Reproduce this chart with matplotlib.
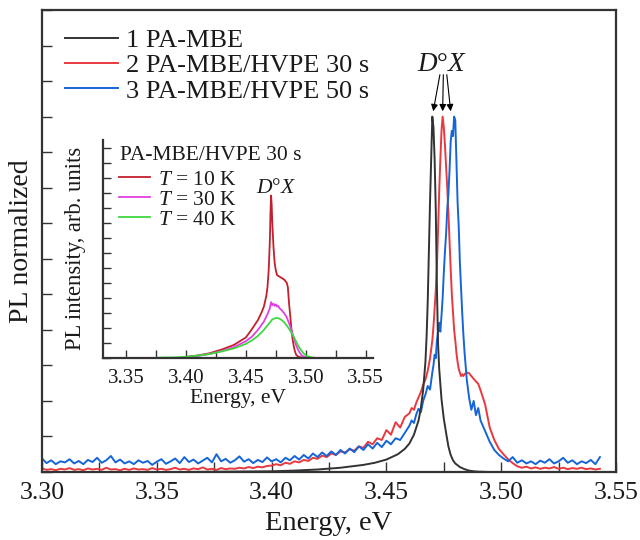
import matplotlib
matplotlib.use('Agg')
import matplotlib.pyplot as plt
from matplotlib.ticker import MultipleLocator, FormatStrFormatter

plt.rcParams['font.family'] = ['Liberation Serif', 'DejaVu Serif']
plt.rcParams['mathtext.fontset'] = 'custom'
plt.rcParams['mathtext.rm'] = 'Liberation Serif'
plt.rcParams['mathtext.it'] = 'Liberation Serif:italic'

# ---------------- main panel data ----------------
energy_main = [
    3.300, 3.302, 3.304, 3.306, 3.308, 3.310, 3.312, 3.314, 3.316, 3.318,
    3.320, 3.322, 3.324, 3.326, 3.328, 3.330, 3.332, 3.334, 3.336, 3.338,
    3.340, 3.342, 3.344, 3.346, 3.348, 3.350, 3.352, 3.354, 3.356, 3.358,
    3.360, 3.362, 3.364, 3.366, 3.368, 3.370, 3.372, 3.374, 3.376, 3.378,
    3.380, 3.382, 3.384, 3.386, 3.388, 3.390, 3.392, 3.394, 3.396, 3.398,
    3.400, 3.402, 3.404, 3.406, 3.408, 3.410, 3.412, 3.414, 3.416, 3.418,
    3.420, 3.422, 3.424, 3.426, 3.428, 3.430, 3.432, 3.434, 3.436, 3.438,
    3.440, 3.442, 3.444, 3.446, 3.448, 3.450, 3.452, 3.454, 3.456, 3.458,
    3.460, 3.461, 3.462, 3.463, 3.464, 3.465, 3.466, 3.467, 3.468, 3.469, 3.470,
    3.4705, 3.4710, 3.4715, 3.4720, 3.4725, 3.4730, 3.4735, 3.4740, 3.4745, 3.4750,
    3.4755, 3.4760, 3.4765, 3.4770, 3.4775, 3.4780, 3.4785, 3.4790, 3.4795, 3.4800,
    3.4805, 3.4810, 3.4815, 3.4820, 3.4825, 3.4830, 3.4835, 3.4840,
    3.485, 3.486, 3.487, 3.488, 3.489, 3.490, 3.491,
    3.493, 3.495, 3.497, 3.499, 3.501, 3.503, 3.505, 3.507, 3.509, 3.511,
    3.513, 3.515, 3.517, 3.519, 3.521, 3.523, 3.525, 3.527, 3.529, 3.531,
    3.533, 3.535, 3.537, 3.539, 3.541, 3.543,
]

pl_hvpe50 = [
    0.38, 0.25, 0.33, 0.22, 0.30, 0.27, 0.36, 0.24, 0.31, 0.22,
    0.34, 0.28, 0.40, 0.26, 0.33, 0.45, 0.27, 0.35, 0.24, 0.30,
    0.22, 0.33, 0.26, 0.31, 0.20, 0.29, 0.36, 0.23, 0.30, 0.38,
    0.25, 0.42, 0.28, 0.35, 0.24, 0.32, 0.40, 0.27, 0.50, 0.30,
    0.37, 0.26, 0.33, 0.44, 0.29, 0.36, 0.25, 0.34, 0.28, 0.41,
    0.30, 0.36, 0.27, 0.40, 0.33, 0.45, 0.35, 0.48, 0.38, 0.52,
    0.42, 0.55, 0.45, 0.58, 0.48, 0.62, 0.52, 0.66, 0.56, 0.72,
    0.62, 0.78, 0.66, 0.82, 0.70, 0.88, 0.78, 0.95, 0.90, 1.10,
    1.30, 1.45, 1.38, 1.62, 1.78, 1.68, 2.00, 2.18, 2.42, 2.32, 2.80,
    3.00, 3.30, 3.20, 3.70, 3.95, 4.20, 3.95, 4.40, 4.90, 5.60,
    6.20, 6.70, 7.40, 7.80, 8.50, 9.30, 9.60, 9.45, 10.00, 9.90,
    8.80, 7.60, 6.90, 5.90, 5.20, 4.50, 3.90, 3.40,
    2.60, 2.10, 1.75, 2.00, 1.60, 1.80, 1.45,
    1.15, 0.85, 0.62, 0.48, 0.38, 0.30, 0.42, 0.26, 0.33, 0.24,
    0.30, 0.22, 0.32, 0.26, 0.36, 0.24, 0.30, 0.40, 0.26, 0.33,
    0.22, 0.30, 0.25, 0.34, 0.22, 0.42,
]

pl_hvpe30 = [
    0.10, 0.06, 0.08, 0.05, 0.09, 0.07, 0.11, 0.06, 0.08, 0.05,
    0.10, 0.07, 0.09, 0.06, 0.12, 0.07, 0.08, 0.05, 0.09, 0.06,
    0.10, 0.07, 0.08, 0.06, 0.11, 0.07, 0.09, 0.06, 0.08, 0.12,
    0.07, 0.09, 0.06, 0.10, 0.08, 0.13, 0.07, 0.09, 0.06, 0.11,
    0.08, 0.10, 0.09, 0.12, 0.10, 0.14, 0.11, 0.15, 0.13, 0.17,
    0.18, 0.22, 0.19, 0.26, 0.23, 0.30, 0.27, 0.34, 0.31, 0.40,
    0.37, 0.46, 0.42, 0.52, 0.48, 0.58, 0.55, 0.64, 0.60, 0.72,
    0.68, 0.85, 0.78, 0.95, 0.90, 1.18, 1.05, 1.40, 1.25, 1.55,
    1.65, 1.80, 1.75, 1.95, 2.10, 2.25, 2.45, 2.60, 2.85, 3.20, 3.70,
    4.10, 4.60, 5.10, 5.80, 6.80, 7.90, 8.80, 9.60, 10.00, 9.70,
    9.20, 8.60, 8.00, 7.30, 6.50, 5.70, 5.00, 4.50, 4.00, 3.70,
    3.35, 3.10, 2.90, 2.80, 2.70, 2.75, 2.70, 2.75,
    2.80, 2.78, 2.70, 2.62, 2.55, 2.48, 2.30,
    1.90, 1.25, 0.90, 0.65, 0.50, 0.36, 0.25, 0.16, 0.12, 0.15,
    0.10, 0.13, 0.09, 0.12, 0.10, 0.14, 0.09, 0.12, 0.08, 0.11,
    0.09, 0.12, 0.08, 0.10, 0.07, 0.09,
]

energy_mbe = [
    3.300, 3.320, 3.340, 3.360, 3.380, 3.400, 3.410, 3.420, 3.430, 3.440,
    3.445, 3.450, 3.455, 3.458, 3.460, 3.462, 3.464, 3.465, 3.466, 3.467,
    3.4675, 3.468, 3.4685, 3.469, 3.4695, 3.4700, 3.4705, 3.4710, 3.4715, 3.4720,
    3.4725, 3.4730, 3.4740, 3.4750, 3.4760, 3.4770, 3.4780, 3.4790, 3.4800, 3.4820,
    3.4840, 3.4860, 3.4880, 3.4900, 3.4950, 3.5000, 3.5200, 3.5426,
]
pl_mbe = [
    0.0, 0.0, 0.0, 0.0, 0.01, 0.02, 0.04, 0.07, 0.12, 0.20,
    0.26, 0.35, 0.50, 0.65, 0.80, 1.05, 1.45, 1.80, 2.30, 3.10,
    3.80, 4.80, 6.20, 7.60, 8.80, 10.00, 9.70, 8.80, 7.40, 5.20,
    3.60, 2.90, 2.05, 1.50, 1.10, 0.72, 0.48, 0.33, 0.24, 0.14,
    0.08, 0.04, 0.02, 0.01, 0.0, 0.0, 0.0, 0.0,
]

labels_main = ['1 PA-MBE', '2 PA-MBE/HVPE 30 s', '3 PA-MBE/HVPE 50 s']
colors_main = ['#333333', '#e8393f', '#1565d8']
x_ticks_main = [3.30, 3.35, 3.40, 3.45, 3.50, 3.55]

# ---------------- inset data ----------------
energy_10k = [3.400, 3.410, 3.420, 3.430, 3.440, 3.450, 3.455, 3.460, 3.463, 3.465,
              3.467, 3.468, 3.469, 3.470, 3.4705, 3.471, 3.4715, 3.472, 3.473, 3.474,
              3.475, 3.476, 3.478, 3.480, 3.482, 3.484, 3.485, 3.486, 3.487, 3.488,
              3.489, 3.490, 3.491, 3.492, 3.494, 3.496, 3.500]
pl_10k = [0.05, 0.15, 0.30, 0.55, 0.85, 1.35, 1.90, 2.50, 3.00, 3.40,
          4.10, 4.70, 5.80, 7.80, 9.60, 10.80, 10.20, 9.00, 7.40, 6.30,
          5.80, 5.50, 5.40, 5.30, 5.20, 5.00, 4.70, 3.60, 2.80, 1.85,
          1.20, 0.73, 0.40, 0.18, 0.06, 0.02, 0.0]

energy_30k = [3.395, 3.410, 3.420, 3.430, 3.440, 3.450, 3.455, 3.460, 3.465, 3.468,
              3.470, 3.471, 3.472, 3.473, 3.474, 3.475, 3.476, 3.477, 3.478, 3.480,
              3.482, 3.484, 3.486, 3.488, 3.490, 3.492, 3.494, 3.496, 3.498, 3.500]
pl_30k = [0.0, 0.12, 0.25, 0.45, 0.70, 1.10, 1.40, 1.85, 2.40, 2.90,
          3.30, 3.70, 3.50, 3.60, 3.45, 3.55, 3.40, 3.45, 3.30, 3.15,
          2.95, 2.70, 2.30, 1.85, 1.30, 0.80, 0.45, 0.20, 0.08, 0.02]

energy_40k = [3.375, 3.390, 3.400, 3.410, 3.420, 3.430, 3.440, 3.450, 3.455, 3.460,
              3.465, 3.470, 3.472, 3.474, 3.476, 3.478, 3.480, 3.482, 3.484, 3.486,
              3.488, 3.490, 3.492, 3.494, 3.496, 3.498, 3.500, 3.503, 3.507]
pl_40k = [0.0, 0.02, 0.06, 0.14, 0.25, 0.42, 0.62, 0.92, 1.15, 1.45,
          1.85, 2.35, 2.55, 2.62, 2.65, 2.60, 2.50, 2.35, 2.15, 1.92,
          1.65, 1.38, 1.05, 0.75, 0.50, 0.30, 0.15, 0.05, 0.0]

inset_title = 'PA-MBE/HVPE 30 s'
labels_inset = ['$T$ = 10 K', '$T$ = 30 K', '$T$ = 40 K']
colors_inset = ['#c3202c', '#e040e0', '#3ed83e']
x_ticks_inset = [3.35, 3.40, 3.45, 3.50, 3.55]

# arrows: (start energy, end energy)
arrow_starts = [3.4733, 3.4748, 3.4763]
arrow_ends = [3.4704, 3.4745, 3.4780]

TXT = '#1a1a1a'

fig = plt.figure(figsize=(6.4, 5.4), dpi=100)
ax = fig.add_axes([42 / 640, 68 / 540, 574 / 640, 462 / 540])

l2, = ax.plot(energy_main, pl_hvpe30, color=colors_main[1], lw=1.4)
l3, = ax.plot(energy_main, pl_hvpe50, color=colors_main[2], lw=1.4)
l1, = ax.plot(energy_mbe, pl_mbe, color=colors_main[0], lw=1.4)

ax.set_xlim(3.30, 3.55)
ax.set_ylim(0, 13)
ax.set_xticks(x_ticks_main)
ax.xaxis.set_major_formatter(FormatStrFormatter('%.2f'))
ax.xaxis.set_minor_locator(MultipleLocator(0.025))
ax.yaxis.set_major_locator(MultipleLocator(1))
ax.tick_params(which='both', direction='in', length=7, width=1.0, color='#333333',
               top=False, right=False, labelleft=False, labelsize=18.5,
               labelcolor=TXT, pad=7)
for s in ax.spines.values():
    s.set_linewidth(1.6)
    s.set_color('#333333')
ax.set_xlabel('Energy, eV', fontsize=20.5, color=TXT, labelpad=5)
ax.set_ylabel('PL normalized', fontsize=20, color=TXT, labelpad=6)

ax.legend([l1, l2, l3], labels_main, loc='upper left', bbox_to_anchor=(0.04, 0.96),
          frameon=False, fontsize=19, handlelength=2.0, handletextpad=0.33,
          labelspacing=0.07, borderaxespad=0, borderpad=0, labelcolor=TXT)

ax.text(3.4741, 11.46, r'$D$°$X$', fontsize=19.5, ha='center', va='center', color=TXT)
for xs, xe in zip(arrow_starts, arrow_ends):
    ax.annotate('', xy=(xe, 10.15), xytext=(xs, 11.18),
                arrowprops=dict(arrowstyle='-|>', lw=0.8, color='black',
                                mutation_scale=10, shrinkA=0, shrinkB=0))

# ---------------- inset ----------------
ax2 = fig.add_axes([102.7 / 640, (540 - 357.7) / 540, (373 - 102.7) / 640, (357.7 - 140) / 540])
ax2.patch.set_alpha(0)
i1, = ax2.plot(energy_10k, pl_10k, color=colors_inset[0], lw=1.3)
i2, = ax2.plot(energy_30k, pl_30k, color=colors_inset[1], lw=1.3)
i3, = ax2.plot(energy_40k, pl_40k, color=colors_inset[2], lw=1.3)
ax2.set_xlim(3.3306, 3.556)
ax2.set_ylim(0, 14.5)
ax2.set_xticks(x_ticks_inset)
ax2.xaxis.set_major_formatter(FormatStrFormatter('%.2f'))
ax2.xaxis.set_minor_locator(MultipleLocator(0.025))
ax2.yaxis.set_major_locator(MultipleLocator(1))
ax2.spines['top'].set_visible(False)
ax2.spines['right'].set_visible(False)
for s in ['left', 'bottom']:
    ax2.spines[s].set_linewidth(1.6)
    ax2.spines[s].set_color('#333333')
ax2.tick_params(which='both', direction='in', length=6, width=1.0, color='#333333',
                top=False, right=False, labelleft=False, labelsize=15,
                labelcolor=TXT, pad=8)
ax2.set_xlabel('Energy, eV', fontsize=15.5, color=TXT, labelpad=1)
ax2.set_ylabel('PL intensity, arb. units', fontsize=16.3, color=TXT, labelpad=12)
ax2.text(0.064, 0.931, inset_title, transform=ax2.transAxes, fontsize=15.5,
         ha='left', va='center', color=TXT)
ax2.legend([i1, i2, i3], labels_inset, loc='upper left', bbox_to_anchor=(0.06, 0.864),
           frameon=False, fontsize=15.5, handlelength=1.45, handletextpad=0.35,
           labelspacing=0.0, borderaxespad=0, borderpad=0, labelcolor=TXT)
ax2.text(3.475, 11.3, r'$D$°$X$', fontsize=15.5, ha='center', va='center', color=TXT)

fig.savefig('out.png', dpi=100)
